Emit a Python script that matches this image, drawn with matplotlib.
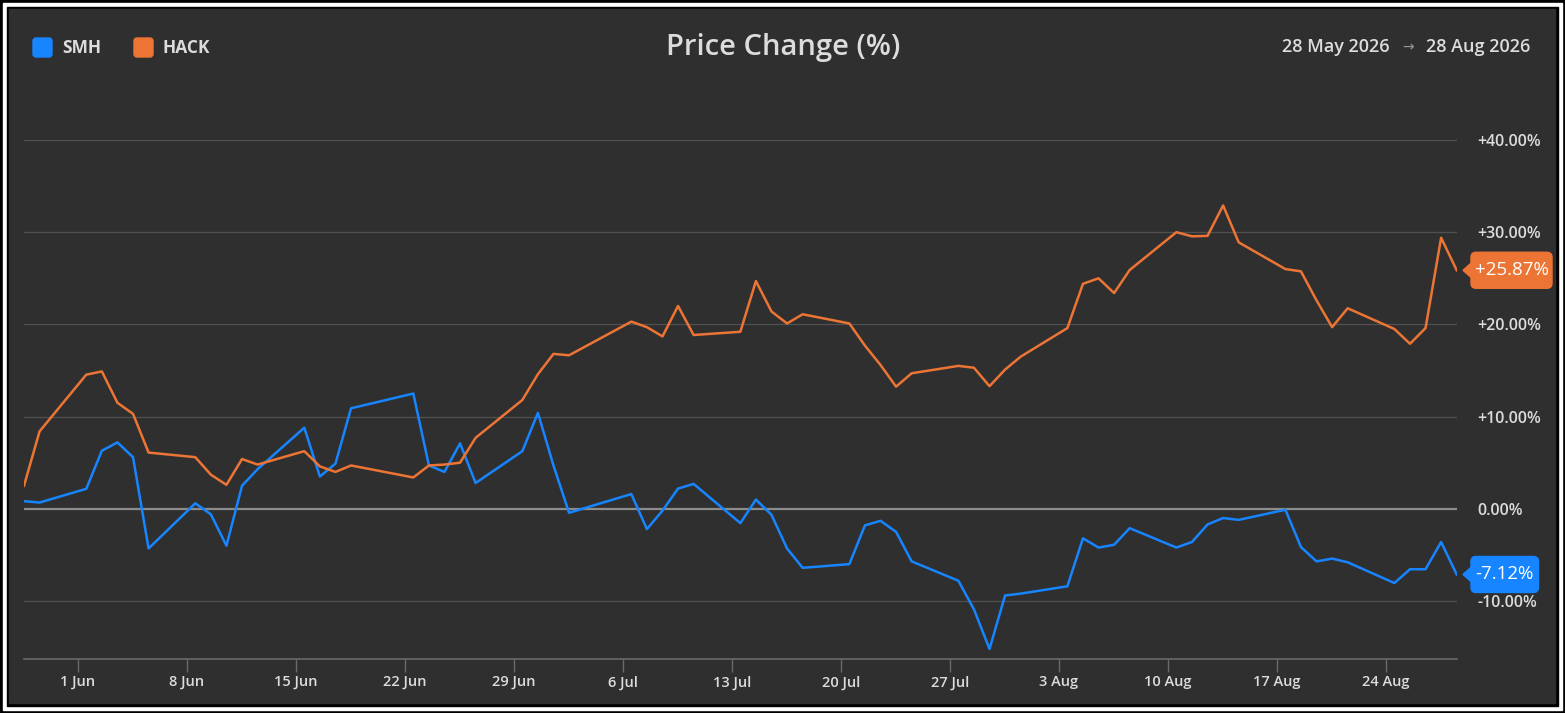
import numpy as np
import matplotlib
matplotlib.use("Agg")
import matplotlib.pyplot as plt
from matplotlib.patches import Rectangle, FancyBboxPatch, Polygon
from matplotlib.transforms import Affine2D

plt.rcParams['font.family'] = ['Open Sans', 'DejaVu Sans']

# trading days shown in the chart
dates = ["2026-05-28", "2026-05-29",
         "2026-06-01", "2026-06-02", "2026-06-03", "2026-06-04", "2026-06-05",
         "2026-06-08", "2026-06-09", "2026-06-10", "2026-06-11", "2026-06-12",
         "2026-06-15", "2026-06-16", "2026-06-17", "2026-06-18",
         "2026-06-22", "2026-06-23", "2026-06-24", "2026-06-25", "2026-06-26",
         "2026-06-29", "2026-06-30", "2026-07-01", "2026-07-02",
         "2026-07-06", "2026-07-07", "2026-07-08", "2026-07-09", "2026-07-10",
         "2026-07-13", "2026-07-14", "2026-07-15", "2026-07-16", "2026-07-17",
         "2026-07-20", "2026-07-21", "2026-07-22", "2026-07-23", "2026-07-24",
         "2026-07-27", "2026-07-28", "2026-07-29", "2026-07-30", "2026-07-31",
         "2026-08-03", "2026-08-04", "2026-08-05", "2026-08-06", "2026-08-07",
         "2026-08-10", "2026-08-11", "2026-08-12", "2026-08-13", "2026-08-14",
         "2026-08-17", "2026-08-18", "2026-08-19", "2026-08-20", "2026-08-21",
         "2026-08-24", "2026-08-25", "2026-08-26", "2026-08-27", "2026-08-28"]

smh = [0.83, 0.68,
       2.17, 6.3, 7.2, 5.6, -4.3,
       0.6, -0.6, -4.0, 2.5, 4.3,
       8.8, 3.5, 4.9, 10.9,
       12.5, 4.7, 4.0, 7.1, 2.8,
       6.25, 10.4, 4.7, -0.43,
       1.6, -2.2, -0.2, 2.2, 2.7,
       -1.55, 1.0, -0.65, -4.3, -6.4,
       -6.0, -1.8, -1.3, -2.5, -5.7,
       -7.8, -10.9, -15.2, -9.4, -9.2,
       -8.4, -3.2, -4.2, -3.9, -2.1,
       -4.2, -3.6, -1.7, -1.0, -1.2,
       -0.1, -4.15, -5.7, -5.4, -5.8,
       -8.05, -6.55, -6.55, -3.6, -7.12]

hack = [2.5, 8.4,
        14.55, 14.9, 11.5, 10.3, 6.1,
        5.6, 3.7, 2.6, 5.4, 4.8,
        6.25, 4.6, 4.0, 4.7,
        3.4, 4.7, 4.8, 5.0, 7.7,
        11.8, 14.6, 16.8, 16.65,
        20.3, 19.7, 18.7, 22.0, 18.85,
        19.2, 24.7, 21.4, 20.1, 21.1,
        20.1, 17.7, 15.6, 13.25, 14.7,
        15.5, 15.3, 13.3, 15.1, 16.5,
        19.6, 24.4, 25.0, 23.4, 25.9,
        30.0, 29.55, 29.6, 32.9, 28.9,
        26.0, 25.75, 22.6, 19.7, 21.75,
        19.5, 17.9, 19.6, 29.4, 25.87]

tick_dates = ["2026-06-01", "2026-06-08", "2026-06-15", "2026-06-22", "2026-06-29",
              "2026-07-06", "2026-07-13", "2026-07-20", "2026-07-27", "2026-08-03",
              "2026-08-10", "2026-08-17", "2026-08-24"]
tick_labels = ["1 Jun", "8 Jun", "15 Jun", "22 Jun", "29 Jun", "6 Jul", "13 Jul",
               "20 Jul", "27 Jul", "3 Aug", "10 Aug", "17 Aug", "24 Aug"]
y_ticks = [-10, 0, 10, 20, 30, 40]

BG = "#2f2f2f"
BLUE = "#1685ff"
ORANGE = "#ec7535"
TXT = "#dcdcdc"

t0 = np.datetime64("2026-05-28")
x = (np.array(dates, dtype="datetime64[D]") - t0).astype(float) + 0.56
xt = (np.array(tick_dates, dtype="datetime64[D]") - t0).astype(float)

W, H = 1565, 713
fig = plt.figure(figsize=(W / 100, H / 100), dpi=100, facecolor="black")
px = Affine2D().scale(1 / W, -1 / H).translate(0, 1) + fig.transFigure

# frame: black / white / black / dark panel
fig.patches.append(Rectangle((3, 3), W - 6, H - 6, transform=px, color="white", zorder=-3))
fig.patches.append(Rectangle((7, 7), W - 14, H - 14, transform=px, color="black", zorder=-2))
fig.patches.append(Rectangle((9, 9), 1546, 694, transform=px, color=BG, zorder=-1))

ax = fig.add_axes([24 / W, 1 - 659.3 / H, (1456.7 - 24) / W, (659.3 - 122) / H])
ax.set_zorder(1)
ax.set_facecolor("none")
ax.set_xlim(x[0], x[-1])
ax.set_ylim(-16.32, 41.95)

for v in y_ticks:
    if v == 0:
        ax.axhline(v, color="#8c8c8c", lw=1.6, zorder=1)
    else:
        ax.axhline(v, color="#505050", lw=0.9, zorder=1)

ax.plot(x, smh, color=BLUE, lw=1.8, zorder=3)
ax.plot(x, hack, color=ORANGE, lw=1.8, zorder=3)

for s in ["top", "left", "right"]:
    ax.spines[s].set_visible(False)
ax.spines["bottom"].set_color("#6a6a6a")
ax.spines["bottom"].set_linewidth(1.2)

ax.set_xticks(xt)
ax.set_xticklabels(tick_labels)
ax.tick_params(axis="x", length=9.5, width=1, color="#6a6a6a", pad=2,
               labelsize=10.5, labelcolor=TXT)
for lab in ax.get_xticklabels():
    lab.set_fontweight("semibold")

ax.yaxis.tick_right()
ax.set_yticks(y_ticks)
ax.set_yticklabels([("+%.2f%%" % v) if v > 0 else "%.2f%%" % v for v in y_ticks])
ax.tick_params(axis="y", length=0, pad=15, labelsize=11.5, labelcolor=TXT)
for lab in ax.get_yticklabels():
    lab.set_fontweight("semibold")

# header
fig.patches.append(FancyBboxPatch((33, 38), 19, 19, boxstyle="round,pad=0,rounding_size=3",
                                  transform=px, color=BLUE))
fig.text(62 / W, 1 - 48 / H, "SMH", color=TXT, fontsize=12.5, fontweight="bold", va="center")
fig.patches.append(FancyBboxPatch((134, 38), 19, 19, boxstyle="round,pad=0,rounding_size=3",
                                  transform=px, color=ORANGE))
fig.text(163 / W, 1 - 48 / H, "HACK", color=TXT, fontsize=12.5, fontweight="bold", va="center")
fig.text(783 / W, 1 - 47 / H, "Price Change (%)", color=TXT, fontsize=21,
         fontweight="semibold", ha="center", va="center")

fig.canvas.draw()
r = fig.canvas.get_renderer()
t_end = fig.text(1530 / W, 1 - 47 / H, "28 Aug 2026", color=TXT, fontsize=13,
                 fontweight="semibold", ha="right", va="center")
bb = t_end.get_window_extent(r)
t_arr = fig.text((bb.x0 - 12) / W, 1 - 47 / H, "\u2192", color="#9a9a9a", fontsize=10,
                 ha="right", va="center", family="DejaVu Sans")
bb = t_arr.get_window_extent(r)
fig.text((bb.x0 - 12) / W, 1 - 47 / H, "28 May 2026", color=TXT, fontsize=13,
         fontweight="semibold", ha="right", va="center")

# last-value badges
for val, col, right in [(hack[-1], ORANGE, 1552), (smh[-1], BLUE, 1538.5)]:
    yp = H - ax.transData.transform((0, val))[1]
    fig.patches.append(FancyBboxPatch((1471, yp - 18), right - 1471, 36,
                                      boxstyle="round,pad=0,rounding_size=5",
                                      transform=px, color=col, zorder=5))
    fig.patches.append(Polygon([(1463, yp), (1472, yp - 8), (1472, yp + 8)],
                               transform=px, color=col, zorder=5))
    lab = ("+%.2f%%" % val) if val > 0 else "%.2f%%" % val
    fig.text((right + 1471) / 2 / W, 1 - yp / H, lab, color="white", fontsize=13.5,
             ha="center", va="center", zorder=6)

fig.savefig("out.png", dpi=100, facecolor="black")
